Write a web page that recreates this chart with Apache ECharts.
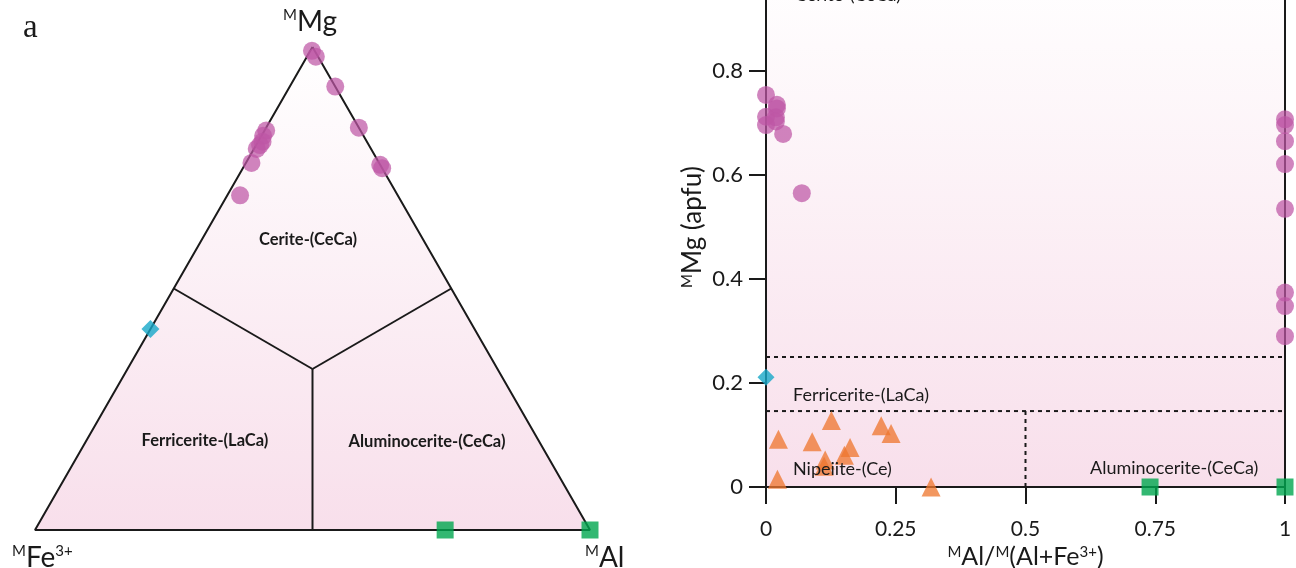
<!DOCTYPE html>
<html>
<head>
<meta charset="utf-8">
<script src="https://cdn.jsdelivr.net/npm/echarts@6/dist/echarts.min.js"></script>
<style>
  html, body { margin: 0; padding: 0; background: #fff; }
  #main { width: 1296px; height: 568px; }
</style>
</head>
<body>
<div id="main"></div>
<script>
// ternary compositions, each row is [Mg, Fe3+, Al]
var ternCerite = [
  [0.992, 0.005, 0.003], [0.980, 0.004, 0.016], [0.918, 0, 0.082],
  [0.833, 0, 0.167], [0.756, 0, 0.244], [0.749, 0, 0.251],
  [0.827, 0.170, 0.003], [0.816, 0.181, 0.003], [0.804, 0.188, 0.008],
  [0.797, 0.196, 0.007], [0.789, 0.206, 0.005], [0.760, 0.230, 0.010],
  [0.693, 0.284, 0.023]
];
var ternFerri = [[0.416, 0.584, 0]];
var ternAlumino = [[0, 0.261, 0.739], [0, 0, 1]];
var ternFrame = [[1, 0, 0], [0, 1, 0], [0, 0, 1]];
var ternCentre = [1 / 3, 1 / 3, 1 / 3];
var ternEdgeMids = [[0.5, 0.5, 0], [0.5, 0, 0.5], [0, 0.5, 0.5]];

// right plot: [Al/(Al+Fe3+), Mg apfu]
var ceriteXY = [
  [0, 0.754], [0.021, 0.735], [0.021, 0.728], [0, 0.712], [0.019, 0.711],
  [0.019, 0.703], [0, 0.696], [0.033, 0.679], [0.069, 0.565],
  [1, 0.707], [1, 0.696], [1, 0.665], [1, 0.621], [1, 0.535],
  [1, 0.374], [1, 0.348], [1, 0.290]
];
var ferriXY = [[0, 0.211]];
var nipeiiteXY = [
  [0.024, 0.092], [0.022, 0.015], [0.126, 0.128], [0.089, 0.087],
  [0.114, 0.052], [0.112, 0.040], [0.162, 0.076], [0.151, 0.061],
  [0.222, 0.118], [0.241, 0.103], [0.318, 0.000]
];
var aluminoXY = [[0.74, 0], [1, 0]];
var upperBound = 0.25;
var lowerBound = 0.146;
var alSplit = 0.5;

var toXY = function (t) {
  return [t[2] + t[0] / 2, t[0] * Math.sqrt(3) / 2];
};

var PURPLE = "rgba(190, 86, 165, 0.9)";
var ORANGE = "rgba(238, 118, 46, 0.95)";
var GREEN = "#00a64f";
var CYAN = "#17a8c8";
var INK = "#1a1a1a";
var FONT = "Lato";

var pinkFill = function () {
  return new echarts.graphic.LinearGradient(0, 0, 0, 1, [
    { offset: 0, color: "#ffffff" },
    { offset: 1, color: "#f8dfeb" }
  ]);
};

var supRich = function (big, small) {
  return {
    b: { fontSize: big, fontFamily: FONT, color: INK },
    s: { fontSize: small, fontFamily: FONT, color: INK, verticalAlign: "top" }
  };
};

var frameLine = ternFrame.concat([ternFrame[0]]).map(toXY);
var dividers = ternEdgeMids.map(function (m) {
  return [toXY(ternCentre), toXY(m)];
});

var series = [
  {
    type: "custom",
    xAxisIndex: 0,
    yAxisIndex: 0,
    silent: true,
    z: 1,
    data: [0],
    renderItem: function (params, api) {
      return {
        type: "polygon",
        shape: {
          points: ternFrame.map(function (t) {
            return api.coord(toXY(t));
          })
        },
        style: { fill: pinkFill() }
      };
    }
  },
  {
    type: "line",
    xAxisIndex: 0,
    yAxisIndex: 0,
    data: frameLine,
    symbol: "none",
    z: 2,
    lineStyle: { color: INK, width: 2 }
  }
];
dividers.forEach(function (d) {
  series.push({
    type: "line",
    xAxisIndex: 0,
    yAxisIndex: 0,
    data: d,
    symbol: "none",
    z: 2,
    lineStyle: { color: INK, width: 2 }
  });
});
series.push(
  {
    type: "scatter", xAxisIndex: 0, yAxisIndex: 0, z: 5,
    data: ternCerite.map(toXY), symbol: "circle", symbolSize: 18,
    itemStyle: { color: PURPLE }
  },
  {
    type: "scatter", xAxisIndex: 0, yAxisIndex: 0, z: 5,
    data: ternFerri.map(toXY), symbol: "diamond", symbolSize: 18,
    itemStyle: { color: CYAN }
  },
  {
    type: "scatter", xAxisIndex: 0, yAxisIndex: 0, z: 5,
    data: ternAlumino.map(toXY), symbol: "rect", symbolSize: 17,
    itemStyle: { color: GREEN }
  }
);

// right plot boundaries
[
  [[0, upperBound], [1, upperBound]],
  [[0, lowerBound], [1, lowerBound]],
  [[alSplit, 0], [alSplit, lowerBound]]
].forEach(function (d) {
  series.push({
    type: "line",
    xAxisIndex: 1,
    yAxisIndex: 1,
    data: d,
    symbol: "none",
    z: 2,
    lineStyle: { color: INK, width: 2, type: [4, 4] }
  });
});
series.push(
  {
    type: "scatter", xAxisIndex: 1, yAxisIndex: 1, z: 5,
    data: ceriteXY, symbol: "circle", symbolSize: 18,
    itemStyle: { color: PURPLE }
  },
  {
    type: "scatter", xAxisIndex: 1, yAxisIndex: 1, z: 5,
    data: ferriXY, symbol: "diamond", symbolSize: 17,
    itemStyle: { color: CYAN }
  },
  {
    type: "scatter", xAxisIndex: 1, yAxisIndex: 1, z: 5,
    data: nipeiiteXY, symbol: "triangle", symbolSize: 19,
    itemStyle: { color: ORANGE }
  },
  {
    type: "scatter", xAxisIndex: 1, yAxisIndex: 1, z: 5,
    data: aluminoXY, symbol: "rect", symbolSize: 17,
    itemStyle: { color: GREEN }
  }
);

var label = function (x, y, text, size, weight, align) {
  return {
    type: "text",
    x: x,
    y: y,
    z: 10,
    style: {
      text: text,
      fontSize: size,
      fontWeight: weight || "normal",
      fontFamily: FONT,
      fill: INK,
      align: align || "left",
      verticalAlign: "middle"
    }
  };
};
var richLabel = function (x, y, text, big, small) {
  return {
    type: "text",
    x: x,
    y: y,
    z: 10,
    style: {
      text: text,
      fontFamily: FONT,
      fill: INK,
      align: "left",
      verticalAlign: "top",
      rich: supRich(big, small)
    }
  };
};

var myChart = echarts.init(document.getElementById("main"));
var option = {
  animation: false,
  backgroundColor: "#ffffff",
  grid: [
    { left: 35, top: 47, width: 555, height: 483, outerBoundsMode: "none", containLabel: false },
    {
      left: 766, top: -33, width: 519, height: 520,
      outerBoundsMode: "none", containLabel: false,
      show: true, backgroundColor: pinkFill(), borderColor: INK, borderWidth: 2
    }
  ],
  xAxis: [
    { gridIndex: 0, type: "value", min: 0, max: 1, show: false },
    {
      gridIndex: 1, type: "value", min: 0, max: 1, interval: 0.25,
      axisLine: { onZero: false, lineStyle: { color: INK, width: 2 } },
      axisTick: { show: true, length: 17, lineStyle: { color: INK, width: 2 } },
      axisLabel: { fontSize: 21, fontFamily: FONT, color: INK, margin: 32 },
      splitLine: { show: false },
      name: "{s|M}{b|Al/}{s|M}{b|(Al+Fe}{s|3+}{b|)}",
      nameLocation: "middle",
      nameGap: 55,
      nameTextStyle: { rich: supRich(25, 15) }
    }
  ],
  yAxis: [
    { gridIndex: 0, type: "value", min: 0, max: Math.sqrt(3) / 2, show: false },
    {
      gridIndex: 1, type: "value", min: 0, max: 1, interval: 0.2,
      axisLine: { onZero: false, lineStyle: { color: INK, width: 2 } },
      axisTick: { show: true, length: 17, lineStyle: { color: INK, width: 2 } },
      axisLabel: { fontSize: 22, fontFamily: FONT, color: INK, margin: 23 },
      splitLine: { show: false },
      name: "{s|M}{b|Mg (apfu)}",
      nameLocation: "middle",
      nameGap: 60,
      nameTextStyle: { rich: supRich(26, 15) }
    }
  ],
  graphic: [
    {
      type: "text", x: 23, y: 12, z: 10,
      style: { text: "a", fontSize: 33, fontFamily: "Liberation Serif", fill: INK }
    },
    richLabel(283, 8, "{s|M}{b|Mg}", 28, 15),
    richLabel(12, 544, "{s|M}{b|Fe}{s|3+}", 28, 15),
    richLabel(585, 544, "{s|M}{b|Al}", 28, 15),
    label(308, 240, "Cerite-(CeCa)", 16.5, "bold", "center"),
    label(205, 441, "Ferricerite-(LaCa)", 16.5, "bold", "center"),
    label(427, 442, "Aluminocerite-(CeCa)", 16.5, "bold", "center"),
    label(795, -5, "Cerite-(CeCa)", 18),
    label(793, 395, "Ferricerite-(LaCa)", 18),
    label(793, 469, "Nipeiite-(Ce)", 18),
    label(1090, 468, "Aluminocerite-(CeCa)", 18)
  ],
  series: series
};
myChart.setOption(option);
</script>
</body>
</html>
